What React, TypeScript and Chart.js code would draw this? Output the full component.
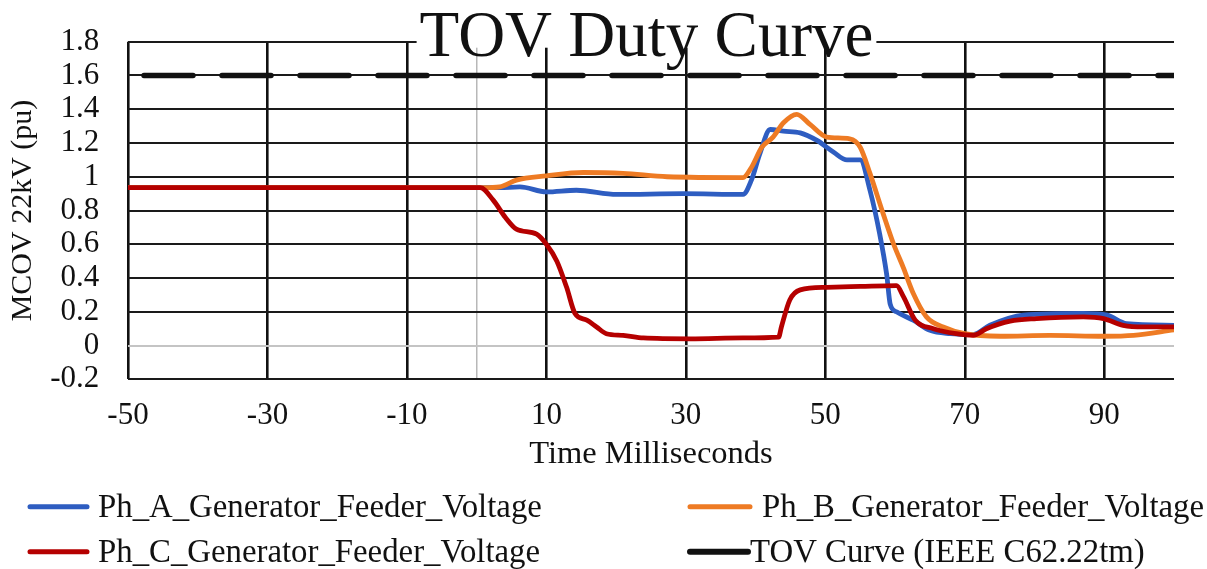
import React, { useEffect, useRef } from 'react';
import { Chart, registerables } from 'chart.js';

Chart.register(...registerables);

// ---- data ----
const chartTitle = 'TOV Duty Curve';
const xTitle = 'Time Milliseconds';
const yTitle = 'MCOV 22kV (pu)';

const xTickValues = [-50, -30, -10, 0, 10, 30, 50, 70, 90];

const phALabel = 'Ph_A_Generator_Feeder_Voltage';
const phATime = [-50, 1, 3.3, 6.2, 10.0, 14.3, 20.1, 29.6, 38.2, 39.4, 40.6, 42.1, 44.0, 46.4, 48.8, 51.2, 53.1, 55.0, 56.4, 57.8, 58.8, 59.3, 60.2, 62.6, 65.0, 67.9, 71.2, 73.6, 78.4, 87.0, 90.4, 93.2, 100];
const phAValue = [0.935, 0.935, 0.935, 0.94, 0.91, 0.92, 0.895, 0.9, 0.895, 0.98, 1.135, 1.28, 1.27, 1.26, 1.215, 1.145, 1.1, 1.1, 0.92, 0.66, 0.42, 0.245, 0.2, 0.15, 0.09, 0.07, 0.065, 0.12, 0.18, 0.19, 0.18, 0.13, 0.12];

const phBLabel = 'Ph_B_Generator_Feeder_Voltage';
const phBTime = [-50, 1, 3.3, 5.7, 10.0, 15.3, 21.0, 27.3, 38.2, 39.4, 40.9, 42.5, 44.0, 45.9, 47.8, 50.2, 53.5, 55.0, 56.4, 58.3, 59.8, 61.2, 62.6, 64.5, 66.9, 70, 75.1, 82.2, 89.9, 94.2, 100];
const phBValue = [0.935, 0.935, 0.94, 0.98, 1.005, 1.025, 1.02, 1.0, 0.995, 1.055, 1.175, 1.235, 1.32, 1.37, 1.31, 1.235, 1.225, 1.175, 1.02, 0.78, 0.6, 0.46, 0.31, 0.17, 0.11, 0.07, 0.055, 0.06, 0.055, 0.06, 0.093];

const phCLabel = 'Ph_C_Generator_Feeder_Voltage';
const phCTime = [-50, 0.5, 2.4, 4.1, 5.7, 8.6, 10.0, 11.5, 12.9, 14.1, 15.8, 17.2, 18.6, 21.0, 23.9, 30.6, 38.2, 43.3, 43.7, 44.9, 46.4, 50.2, 55, 60.2, 61.2, 62.9, 65.5, 68.8, 71.2, 73.1, 76.5, 80.3, 87.0, 89.9, 92.7, 95.6, 100];
const phCValue = [0.935, 0.935, 0.86, 0.76, 0.69, 0.66, 0.6, 0.5, 0.345, 0.19, 0.15, 0.11, 0.07, 0.06, 0.045, 0.04, 0.045, 0.05, 0.11, 0.27, 0.33, 0.345, 0.35, 0.355, 0.29, 0.15, 0.1, 0.07, 0.06, 0.1, 0.145, 0.16, 0.17, 0.16, 0.12, 0.11, 0.11];

const tovLabel = 'TOV Curve (IEEE C62.22tm)';
const tovTime = [-50, 100];
const tovValue = [1.6, 1.6];

const colA = '#2E5DC1';
const colB = '#EE7B24';
const colC = '#B50000';
const colTov = '#111111';

const FONT = '"Liberation Serif", "Times New Roman", serif';

const toPoints = (t: number[], v: number[]) => t.map((x, i) => ({ x, y: v[i] }));

const decorPlugin = {
  id: 'decor',
  afterDraw(chart: any) {
    const ctx = chart.ctx as CanvasRenderingContext2D;
    const area = chart.chartArea;
    ctx.save();
    // title over the top border
    ctx.font = `65px ${FONT}`;
    const w = ctx.measureText(chartTitle).width;
    const cx = (area.left + area.right) / 2 - 4.5;
    ctx.fillStyle = '#ffffff';
    ctx.fillRect(cx - w / 2 - 3, area.top - 7, w + 6, 13);
    ctx.fillStyle = '#111';
    ctx.textAlign = 'center';
    ctx.textBaseline = 'alphabetic';
    ctx.fillText(chartTitle, cx, 56);

    // legend (two columns)
    const items = [
      { label: phALabel, color: colA, row: 0, lw: 5, x0: 30, x1: 87, tx: 98 },
      { label: phBLabel, color: colB, row: 0, lw: 5, x0: 690, x1: 750, tx: 762 },
      { label: phCLabel, color: colC, row: 1, lw: 5, x0: 30, x1: 87, tx: 98 },
      { label: tovLabel, color: colTov, row: 1, lw: 6, x0: 690, x1: 748, tx: 750 },
    ];
    const rowLineY = [506.7, 551.7];
    ctx.font = `32.8px ${FONT}`;
    ctx.textAlign = 'left';
    for (const it of items) {
      const y = rowLineY[it.row];
      ctx.strokeStyle = it.color;
      ctx.lineWidth = it.lw;
      ctx.lineCap = 'round';
      ctx.beginPath();
      ctx.moveTo(it.x0, y);
      ctx.lineTo(it.x1, y);
      ctx.stroke();
      ctx.fillStyle = '#111';
      ctx.fillText(it.label, it.tx, y + 10);
    }
    ctx.restore();
  },
};

export default function App() {
  const ref = useRef<HTMLCanvasElement | null>(null);

  useEffect(() => {
    document.body.style.margin = '0';
    const canvas = ref.current;
    if (!canvas) return;
    const lineDs = (label: string, t: number[], v: number[], color: string, order: number) => ({
      label,
      data: toPoints(t, v),
      borderColor: color,
      backgroundColor: color,
      borderWidth: 4.8,
      pointRadius: 0,
      cubicInterpolationMode: 'monotone' as const,
      borderCapStyle: 'round' as const,
      borderJoinStyle: 'round' as const,
      order,
    });
    const chart = new Chart(canvas, {
      type: 'line',
      data: {
        datasets: [
          lineDs(phALabel, phATime, phAValue, colA, 2),
          lineDs(phBLabel, phBTime, phBValue, colB, 1),
          lineDs(phCLabel, phCTime, phCValue, colC, 0),
          {
            label: tovLabel,
            data: toPoints(tovTime, tovValue),
            borderColor: colTov,
            backgroundColor: colTov,
            borderWidth: 5.5,
            pointRadius: 0,
            borderDash: [49, 29],
            borderDashOffset: 62,
            borderCapStyle: 'round',
            order: 3,
          },
        ],
      },
      options: {
        responsive: false,
        animation: false,
        layout: { padding: { left: 0, right: 33, top: 41.7, bottom: 89.7 } },
        plugins: {
          legend: { display: false },
          title: { display: false },
          tooltip: { enabled: false },
        },
        scales: {
          x: {
            type: 'linear',
            min: -50,
            max: 100,
            afterBuildTicks: (scale: any) => {
              scale.ticks = xTickValues.map((value) => ({ value }));
            },
            afterFit: (scale: any) => {
              scale.height = 100;
            },
            ticks: {
              autoSkip: false,
              maxRotation: 0,
              padding: 18,
              color: '#111',
              font: { family: FONT, size: 31 },
              callback: (v: any) => (Number(v) === 0 ? '' : String(v)),
            },
            grid: {
              drawTicks: false,
              color: (c: any) => (c.tick && c.tick.value === 0 ? '#b8b8b8' : '#111'),
              lineWidth: (c: any) => (c.tick && c.tick.value === 0 ? 1.5 : 2.6),
            },
            border: { display: false },
            title: {
              display: true,
              text: xTitle,
              color: '#111',
              font: { family: FONT, size: 32.5 },
              padding: { top: 0, bottom: 5 },
            },
          },
          y: {
            min: -0.2,
            max: 1.8,
            afterFit: (scale: any) => {
              scale.width = 128;
            },
            ticks: {
              stepSize: 0.2,
              autoSkip: false,
              padding: 28.7,
              color: '#111',
              font: { family: FONT, size: 31, lineHeight: 0.8 },
              callback: (v: any) => String(Math.round(Number(v) * 10) / 10),
            },
            grid: {
              drawTicks: false,
              color: (c: any) => (c.tick && Math.abs(c.tick.value) < 1e-9 ? '#c4c4c4' : '#1a1a1a'),
              lineWidth: 2,
            },
            border: { display: false },
            title: {
              display: true,
              text: yTitle,
              color: '#111',
              font: { family: FONT, size: 30 },
              padding: { top: 4.8, bottom: 0 },
            },
          },
        },
      },
      plugins: [decorPlugin],
    } as any);
    return () => chart.destroy();
  }, []);

  return (
    <div style={{ width: 1207, height: 569, background: '#fff' }}>
      <canvas ref={ref} width={1207} height={569} />
    </div>
  );
}
